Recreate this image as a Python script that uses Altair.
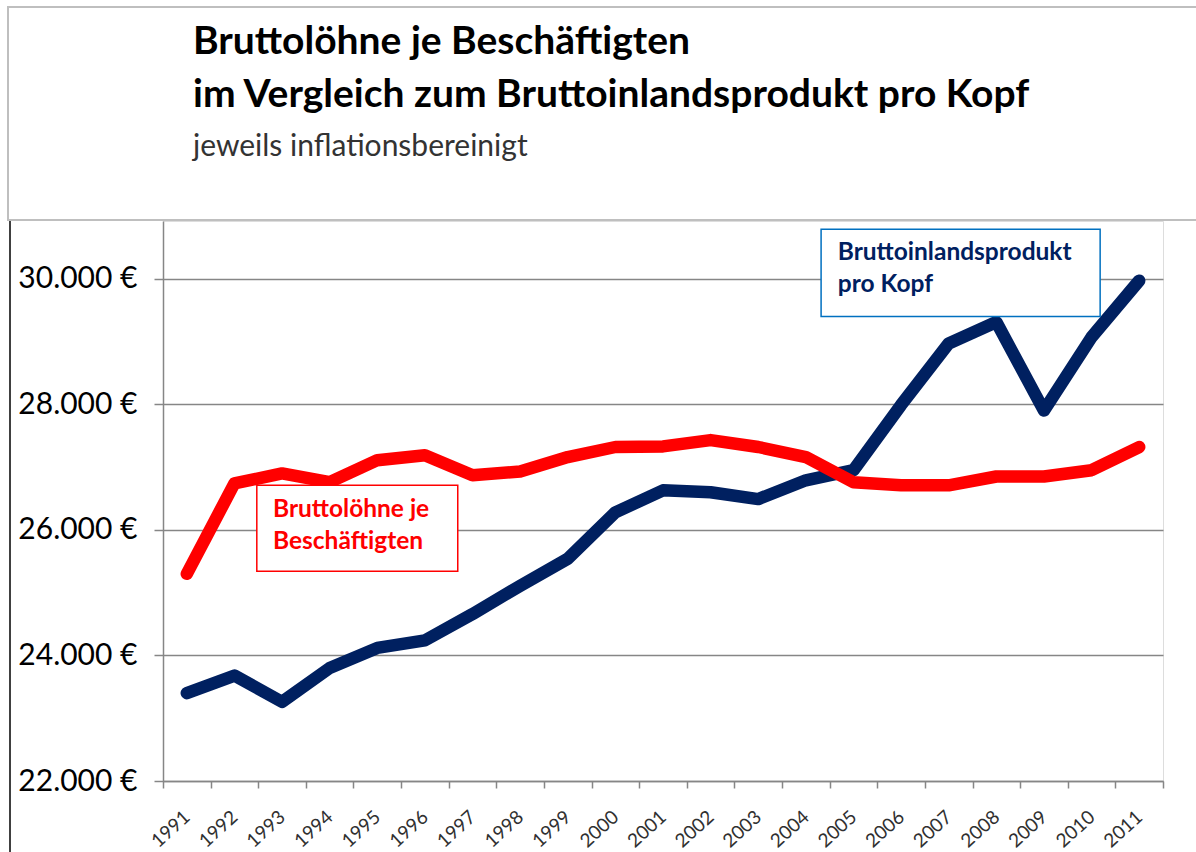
import altair as alt
import pandas as pd

years = [str(y) for y in range(1991, 2012)]
bip_pro_kopf = [23400, 23680, 23260, 23800, 24120, 24240, 24660, 25110, 25540, 26280,
                26630, 26600, 26490, 26790, 26950, 27990, 28970, 29310, 27900, 29070, 29970]
bruttoloehne = [25300, 26740, 26900, 26760, 27110, 27190, 26870, 26930, 27160, 27320,
                27330, 27430, 27320, 27160, 26760, 26710, 26710, 26850, 26850, 26950, 27320]

series_names = ["Bruttoinlandsprodukt pro Kopf", "Bruttolöhne je Beschäftigten"]
series_colors = ["#002060", "#FF0000"]

title_lines = ["Bruttolöhne je Beschäftigten", "im Vergleich zum Bruttoinlandsprodukt pro Kopf"]
subtitle_text = "jeweils inflationsbereinigt"

# annotation boxes (in year / euro units)
box_names = ["Bruttolöhne je Beschäftigten", "Bruttoinlandsprodukt pro Kopf"]
box_x = [1992.47, 2004.32]
box_x2 = [1996.69, 2010.18]
box_y = [26710, 30790]
box_y2 = [25340, 29400]
box_stroke = ["#FF0000", "#0070C0"]
label_x = [1992.81, 2004.67]
label_y = [26315, 30408]
label_text = [["Bruttolöhne je", "Beschäftigten"], ["Bruttoinlandsprodukt", "pro Kopf"]]
label_color = ["#FF0000", "#002060"]

rows = []
for name, vals in zip(series_names, [bip_pro_kopf, bruttoloehne]):
    for y, v in zip(years, vals):
        rows.append({"Jahr": y, "Wert": v, "Reihe": name})
df = pd.DataFrame(rows)

boxes = pd.DataFrame({"name": box_names, "x": box_x, "x2": box_x2, "y": box_y, "y2": box_y2,
                      "stroke": box_stroke})
labels = pd.DataFrame({"x": label_x, "y": label_y, "text": label_text, "color": label_color})

FONT = "Lato"
ydom = [22000, 30920]

lines = alt.Chart(df).mark_line(strokeWidth=12.5, strokeCap="round", strokeJoin="round").encode(
    x=alt.X("Jahr:N", sort=years, title=None,
            scale=alt.Scale(paddingInner=0, paddingOuter=0),
            axis=alt.Axis(labelAngle=-42, labelAlign="right", labelBaseline="middle",
                          labelFontSize=19, labelColor="#303030", labelFont=FONT,
                          tickBand="extent", tickSize=7, tickColor="#868686",
                          domainColor="#868686", domainWidth=1.5, tickWidth=1.5,
                          labelPadding=26, grid=False)),
    y=alt.Y("Wert:Q", title=None, scale=alt.Scale(domain=ydom, nice=False, zero=False),
            axis=alt.Axis(values=[22000, 24000, 26000, 28000, 30000],
                          labelExpr="replace(format(datum.value, ',.0f'), ',', '.') + ' €'",
                          labelFontSize=30, labelColor="#000000", labelFont=FONT,
                          tickSize=9, tickColor="#868686", tickWidth=1.5,
                          domainColor="#868686", domainWidth=1.5,
                          gridColor="#868686", gridWidth=1.5, labelPadding=17)),
    color=alt.Color("Reihe:N", scale=alt.Scale(domain=series_names, range=series_colors),
                    legend=None),
)

xq = alt.Scale(domain=[1990.5, 2011.5], nice=False, zero=False)

box_layer = alt.Chart(boxes).mark_rect(fill="white", strokeWidth=1.5).encode(
    x=alt.X("x:Q", scale=xq, axis=None),
    x2="x2:Q",
    y=alt.Y("y:Q", scale=alt.Scale(domain=ydom, nice=False, zero=False)),
    y2="y2:Q",
    stroke=alt.Stroke("stroke:N", scale=None),
)

text_layer = alt.Chart(labels).mark_text(align="left", baseline="middle", fontSize=24.5,
                                         fontWeight="bold", font=FONT, lineHeight=32).encode(
    x=alt.X("x:Q", scale=xq, axis=None),
    y=alt.Y("y:Q", scale=alt.Scale(domain=ydom, nice=False, zero=False)),
    text="text",
    color=alt.Color("color:N", scale=None),
)

one = pd.DataFrame({"k": [0]})
frame = alt.Chart(one).mark_rect(fill=None, stroke="#BFBFBF", strokeWidth=2).encode(
    x=alt.value(-155), x2=alt.value(1045), y=alt.value(-214), y2=alt.value(-1))
left_line = alt.Chart(one).mark_rule(stroke="#404040", strokeWidth=2).encode(
    x=alt.value(-153), y=alt.value(0), y2=alt.value(640))

title1 = alt.Chart(one).mark_text(align="left", baseline="alphabetic", fontSize=39,
                                  fontWeight="bold", font=FONT, color="#000000").encode(
    x=alt.value(30), y=alt.value(-167), text=alt.value(title_lines[0]))
title2 = alt.Chart(one).mark_text(align="left", baseline="alphabetic", fontSize=39,
                                  fontWeight="bold", font=FONT, color="#000000").encode(
    x=alt.value(30), y=alt.value(-114), text=alt.value(title_lines[1]))
subtitle = alt.Chart(one).mark_text(align="left", baseline="alphabetic", fontSize=30,
                                    font=FONT, color="#333333").encode(
    x=alt.value(30), y=alt.value(-65), text=alt.value(subtitle_text))

chart = alt.layer(lines, box_layer, text_layer, frame, left_line, title1, title2, subtitle).resolve_scale(
    x="independent"
).properties(
    width=1000, height=560,
    autosize=alt.AutoSizeParams(type="none"),
    padding={"left": 163, "top": 221, "right": 33, "bottom": 71},
).configure_view(stroke=None).configure(background="white")

chart.save("out.html", embed_options={"renderer": "svg", "actions": False})
